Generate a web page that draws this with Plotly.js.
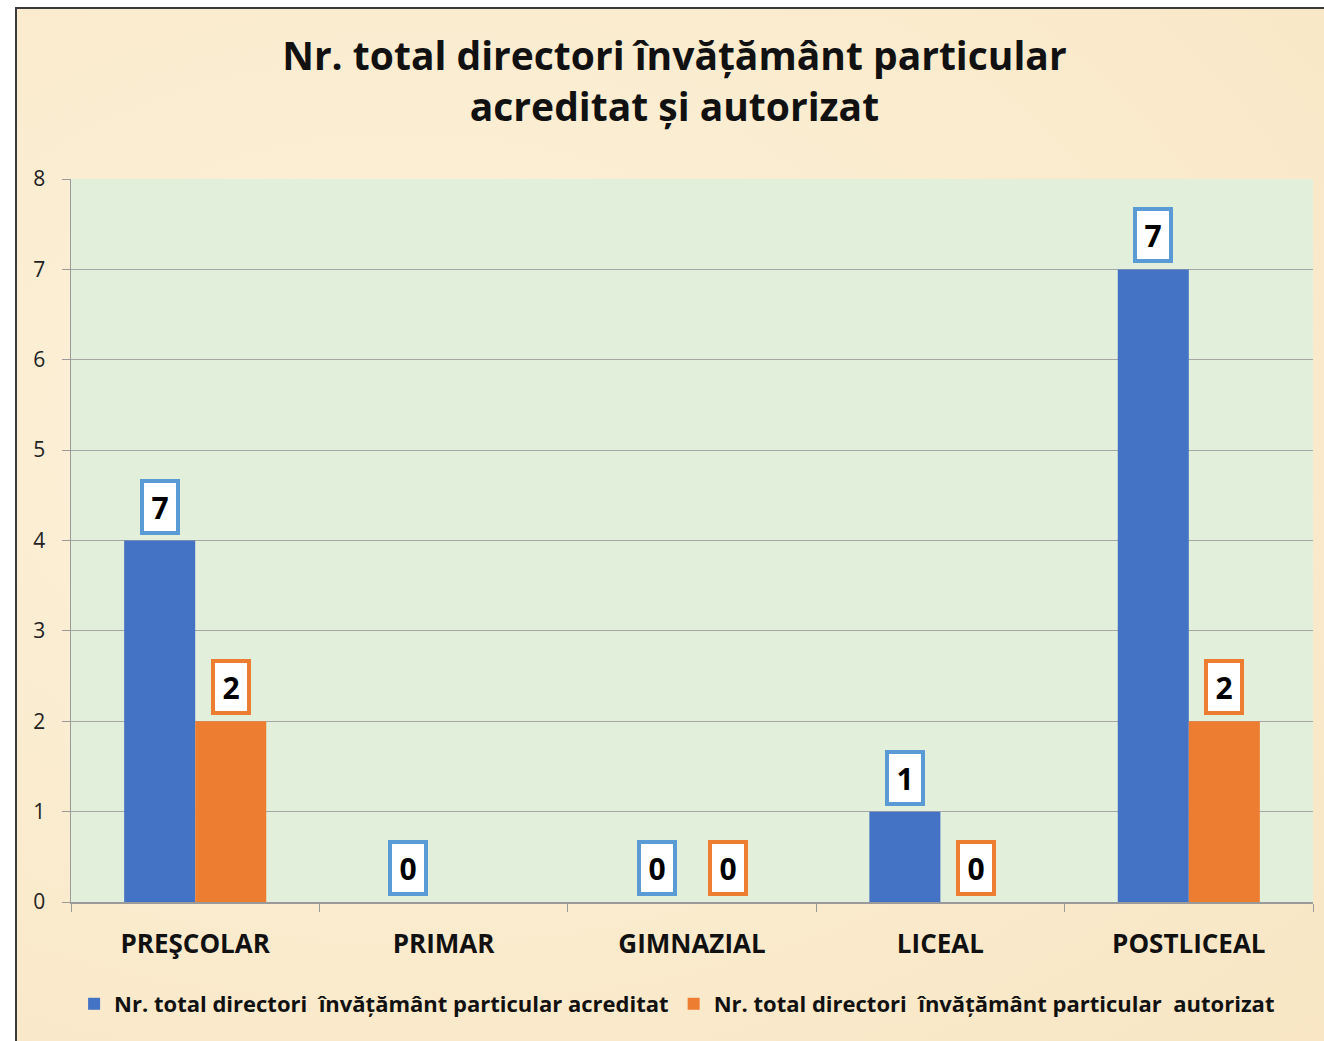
<!DOCTYPE html>
<html>
<head>
<meta charset="utf-8">
<script src="https://cdn.plot.ly/plotly-3.0.1.min.js"></script>
<style>
  html, body { margin: 0; padding: 0; background: #ffffff; width: 1324px; height: 1041px; overflow: hidden; }
  #frame { position: absolute; left: 15px; top: 7px; width: 1309px; height: 1034px;
           border-left: 2px solid #3a3a3a; border-top: 2px solid #3a3a3a;
           background: radial-gradient(ellipse at 30% 40%, #fcf1da 0%, #faebcd 60%, #f8e6c4 100%); }
  #chart { position: absolute; left: 17px; top: 9px; width: 1307px; height: 1032px; }
</style>
</head>
<body>
<div id="frame"></div>
<div id="chart"></div>
<script>
const categories = ["PREŞCOLAR", "PRIMAR", "GIMNAZIAL", "LICEAL", "POSTLICEAL"];
const acreditat = [4, 0, 0, 1, 7];
const acreditatLabels = ["7", "0", "0", "1", "7"];
const autorizat = [2, null, 0, 0, 2];
const autorizatLabels = ["2", null, "0", "0", "2"];
const seriesNames = [
  "Nr. total directori  învățământ particular acreditat",
  "Nr. total directori  învățământ particular  autorizat"
];
const yTicks = [0, 1, 2, 3, 4, 5, 6, 7, 8];

const blue = "#4472C4", orange = "#ED7D31";
const blueBorder = "#5B9BD5", orangeBorder = "#ED7D31";
const fontFam = "'Open Sans', 'Noto Sans', sans-serif";

const traces = [
  { type: "bar", x: categories, y: acreditat, name: seriesNames[0],
    marker: { color: blue, line: { width: 0 } }, hoverinfo: "skip" },
  { type: "bar", x: categories, y: autorizat, name: seriesNames[1],
    marker: { color: orange, line: { width: 0 } }, hoverinfo: "skip" }
];

function makeLabels(vals, labels, shift, border) {
  const out = [];
  vals.forEach((v, i) => {
    if (labels[i] === null || v === null) return;
    out.push({
      x: categories[i], y: v, xref: "x", yref: "y",
      text: "<b>" + labels[i] + "</b>", showarrow: false,
      xshift: shift, yshift: 6, yanchor: "bottom",
      font: { family: fontFam, size: 30, color: "#000000" },
      bgcolor: "#ffffff", bordercolor: border, borderwidth: 4, borderpad: 3,
      width: 26, height: 42
    });
  });
  return out;
}

const annotations = []
  .concat(makeLabels(acreditat, acreditatLabels, -35.5, blueBorder))
  .concat(makeLabels(autorizat, autorizatLabels, 35.5, orangeBorder));

const layout = {
  width: 1307, height: 1032,
  paper_bgcolor: "rgba(0,0,0,0)",
  plot_bgcolor: "#E2EFDA",
  margin: { l: 54, r: 11, t: 170, b: 139, autoexpand: false },
  title: {
    text: "<b>Nr. total directori învățământ particular<br>acreditat și autorizat</b>",
    font: { family: fontFam, size: 39, color: "#111111" },
    x: 0.503, xref: "container", yref: "container", y: 0.941, yanchor: "middle"
  },
  barmode: "group",
  bargap: 0.428,
  bargroupgap: 0,
  xaxis: {
    type: "category",
    tickfont: { family: fontFam, size: 26, color: "#111111", weight: "bold" },
    ticks: "outside", tickson: "boundaries", ticklen: 8, tickcolor: "#9a9a9a",
    showline: true, linecolor: "#9a9a9a", linewidth: 1.5,
    showgrid: false, ticklabelstandoff: 18, tickangle: 0
  },
  yaxis: {
    range: [0, 8], tickvals: yTicks, ticktext: yTicks.map(String),
    tickfont: { family: fontFam, size: 21, color: "#222222" },
    ticks: "outside", ticklen: 8, tickcolor: "#9a9a9a",
    showline: true, linecolor: "#9a9a9a", linewidth: 1.5,
    showgrid: true, gridcolor: "#a6a6a6", gridwidth: 1,
    zeroline: false, ticklabelstandoff: 12
  },
  showlegend: true,
  legend: {
    orientation: "h", x: 0.488, xanchor: "center", y: -0.112, yanchor: "top",
    font: { family: fontFam, size: 22, color: "#111111", weight: "bold" },
    bgcolor: "rgba(0,0,0,0)", itemwidth: 30, traceorder: "normal"
  },
  annotations: annotations
};

Plotly.newPlot("chart", traces, layout, { displayModeBar: false, staticPlot: true });
</script>
</body>
</html>
